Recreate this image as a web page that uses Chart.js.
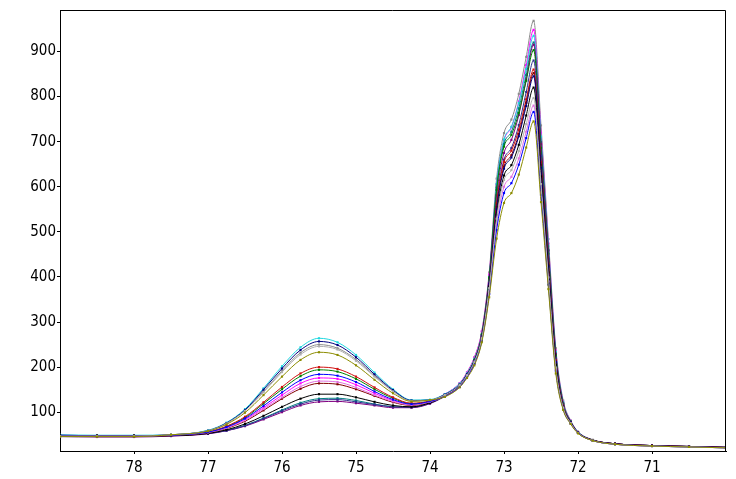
<!DOCTYPE html>
<html>
<head>
<meta charset="utf-8">
<script src="https://cdn.jsdelivr.net/npm/chart.js@4.4.0/dist/chart.umd.min.js"></script>
<style>
    html, body { margin: 0; padding: 0; background: #fff; }
    canvas { display: block; }
</style>
</head>
<body>
<canvas id="meltChart" width="736" height="479"></canvas>
<script>
// Temperature grid (°C), shared by every curve
const temps = [79.0, 78.5, 78.0, 77.5, 77.0, 76.75, 76.5, 76.25, 76.0, 75.75,
    75.5, 75.25, 75.0, 74.75, 74.5, 74.25, 74.0, 73.8, 73.6, 73.5,
    73.4, 73.3, 73.2, 73.1, 73.0, 72.9, 72.8, 72.7, 72.6, 72.5,
    72.4, 72.3, 72.2, 72.1, 72.0, 71.8, 71.5, 71.0, 70.5, 70.0];

// One array per sample (-dF/dT)
const cyanSample = [50, 49, 49, 50, 60, 77, 107, 153, 202, 244, 264, 255, 227, 188, 151, 127, 128, 140, 163, 186, 218, 272, 395, 606, 705, 733, 786, 861, 935, 711, 468, 234, 122, 80, 56, 38, 30, 26, 24, 22];
const navySample = [49, 48, 48, 50, 59, 76, 105, 150, 197, 238, 257, 249, 222, 184, 149, 126, 127, 139, 161, 184, 214, 268, 385, 550, 640, 665, 712, 779, 845, 642, 423, 211, 112, 78, 55, 38, 30, 26, 24, 22];
const graySample = [48, 48, 47, 50, 59, 75, 104, 146, 192, 232, 250, 242, 217, 181, 147, 126, 127, 140, 164, 188, 222, 280, 410, 618, 719, 749, 806, 888, 968, 736, 484, 242, 126, 82, 57, 39, 30, 26, 24, 22];
const silverSample = [47, 47, 47, 50, 59, 75, 103, 144, 189, 228, 246, 239, 214, 179, 146, 125, 127, 138, 160, 182, 212, 264, 375, 529, 615, 637, 679, 739, 797, 606, 399, 199, 110, 76, 54, 37, 29, 25, 23, 21];
const oliveSample = [46, 46, 46, 50, 58, 73, 99, 138, 179, 216, 233, 227, 204, 172, 142, 124, 127, 134, 155, 176, 204, 255, 355, 485, 564, 586, 627, 687, 745, 566, 373, 186, 105, 74, 53, 37, 29, 25, 23, 21];
const redSample = [48, 48, 48, 49, 56, 69, 90, 122, 156, 186, 200, 196, 179, 155, 133, 120, 125, 137, 159, 181, 212, 266, 385, 563, 655, 680, 727, 794, 860, 654, 430, 215, 114, 78, 55, 38, 30, 26, 24, 22];
const greenSample = [48, 47, 47, 49, 56, 68, 88, 119, 151, 180, 194, 190, 174, 151, 131, 119, 125, 138, 161, 184, 216, 272, 398, 593, 689, 715, 764, 835, 903, 686, 452, 226, 118, 79, 55, 38, 30, 26, 24, 22];
const blueSample = [47, 47, 47, 49, 56, 67, 86, 114, 144, 171, 184, 181, 167, 146, 128, 118, 124, 135, 156, 178, 207, 258, 362, 504, 586, 608, 649, 708, 766, 582, 383, 192, 107, 75, 54, 37, 29, 25, 23, 21];
const magentaSample = [49, 48, 48, 49, 55, 66, 84, 110, 138, 164, 176, 174, 161, 142, 126, 117, 124, 140, 164, 188, 221, 278, 405, 605, 703, 732, 789, 870, 948, 720, 474, 237, 123, 81, 56, 38, 30, 26, 24, 22];
const pinkSample = [47, 47, 47, 49, 55, 65, 82, 107, 133, 157, 169, 167, 155, 138, 124, 116, 123, 135, 157, 179, 208, 260, 368, 516, 600, 622, 663, 722, 780, 593, 390, 195, 108, 76, 54, 37, 29, 25, 23, 21];
const maroonSample = [47, 46, 46, 48, 54, 64, 80, 104, 130, 152, 164, 162, 151, 136, 122, 115, 122, 136, 158, 180, 211, 265, 380, 555, 645, 670, 717, 786, 852, 648, 426, 213, 113, 77, 55, 38, 30, 26, 24, 22];
const blackSample = [48, 48, 48, 48, 53, 61, 74, 92, 112, 130, 140, 140, 133, 123, 115, 112, 121, 136, 158, 180, 210, 264, 378, 538, 625, 648, 693, 758, 820, 623, 410, 205, 110, 76, 54, 37, 29, 25, 23, 21];
const tealSample = [47, 47, 46, 48, 53, 60, 71, 87, 105, 121, 130, 131, 126, 118, 112, 111, 120, 137, 160, 184, 216, 272, 400, 598, 695, 722, 774, 848, 920, 699, 460, 230, 120, 80, 56, 38, 30, 26, 24, 22];
const slateSample = [46, 46, 46, 48, 53, 59, 70, 86, 103, 118, 127, 128, 123, 117, 112, 111, 120, 135, 157, 180, 211, 266, 388, 568, 660, 686, 737, 810, 880, 669, 440, 220, 116, 78, 55, 38, 30, 26, 24, 22];
const purpleSample = [46, 45, 45, 47, 52, 59, 69, 84, 100, 115, 123, 124, 120, 115, 110, 110, 119, 136, 159, 183, 214, 270, 395, 581, 675, 704, 759, 838, 915, 695, 458, 229, 119, 79, 55, 38, 30, 26, 24, 22];

// Axis tick labels
const xTicks = [78, 77, 76, 75, 74, 73, 72, 71];
const yTicks = [100, 200, 300, 400, 500, 600, 700, 800, 900];

const samples = [
    { values: oliveSample, color: '#8c8c00' },
    { values: silverSample, color: '#b0b0b0' },
    { values: blueSample, color: '#0000ff' },
    { values: pinkSample, color: '#e070e0' },
    { values: blackSample, color: '#000000' },
    { values: navySample, color: '#000080' },
    { values: maroonSample, color: '#800000' },
    { values: redSample, color: '#d01010' },
    { values: slateSample, color: '#303090' },
    { values: greenSample, color: '#008000' },
    { values: purpleSample, color: '#800080' },
    { values: tealSample, color: '#008080' },
    { values: cyanSample, color: '#20d8e0' },
    { values: magentaSample, color: '#ff00ff' },
    { values: graySample, color: '#8c8c8c' }
];

const tickFont = { family: "'DejaVu Sans Condensed', 'DejaVu Sans', sans-serif", size: 15 };

// Draws the top and right edges of the plot frame
const frame = {
    id: 'frame',
    afterDraw(chart) {
        const { ctx, chartArea: a } = chart;
        ctx.save();
        ctx.strokeStyle = '#000';
        ctx.lineWidth = 1;
        ctx.beginPath();
        ctx.moveTo(a.left, a.top + 0.5);
        ctx.lineTo(a.right - 0.5, a.top + 0.5);
        ctx.lineTo(a.right - 0.5, a.bottom);
        ctx.stroke();
        ctx.restore();
    }
};

new Chart(document.getElementById('meltChart').getContext('2d'), {
    type: 'line',
    data: {
        datasets: samples.map(s => ({
            data: temps.map((t, i) => ({ x: t, y: s.values[i] })),
            borderColor: s.color,
            backgroundColor: s.color,
            borderWidth: 1,
            pointStyle: 'rect',
            pointRadius: 1.5,
            pointBorderWidth: 0,
            cubicInterpolationMode: 'monotone',
            fill: false
        }))
    },
    options: {
        responsive: false,
        devicePixelRatio: 1,
        animation: false,
        layout: { padding: { left: 0, right: 10, top: 10, bottom: 0 } },
        plugins: {
            legend: { display: false },
            tooltip: { enabled: false }
        },
        scales: {
            x: {
                type: 'linear',
                reverse: true,
                min: 70,
                max: 79,
                afterBuildTicks: scale => { scale.ticks = xTicks.map(v => ({ value: v })); },
                afterFit: scale => { scale.height = 28; },
                ticks: { font: tickFont, color: '#000', padding: 5 },
                grid: { drawOnChartArea: false, tickLength: 3, color: '#000' },
                border: { display: true, color: '#000' }
            },
            y: {
                min: 14,
                max: 992,
                afterBuildTicks: scale => { scale.ticks = yTicks.map(v => ({ value: v })); },
                afterFit: scale => { scale.width = 60; },
                ticks: { font: tickFont, color: '#000', padding: 1 },
                grid: { drawOnChartArea: false, tickLength: 3, color: '#000' },
                border: { display: true, color: '#000' }
            }
        }
    },
    plugins: [frame]
});
</script>
</body>
</html>
